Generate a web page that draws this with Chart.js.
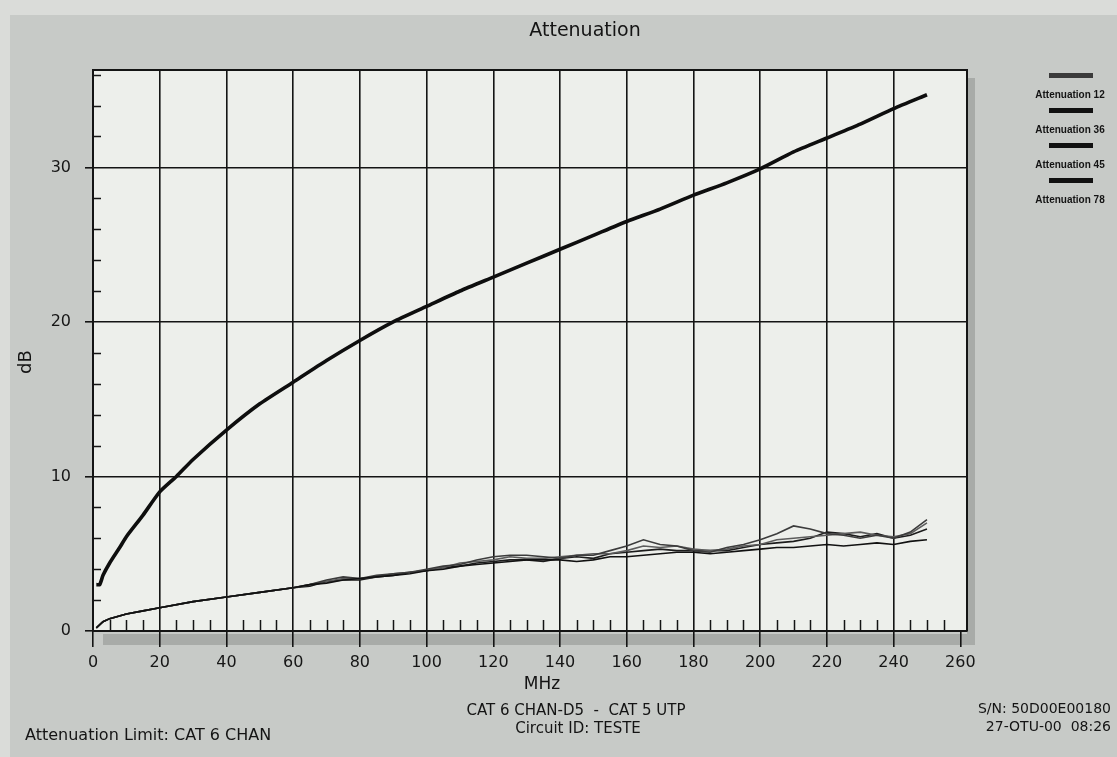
<!DOCTYPE html>
<html>
<head>
<meta charset="utf-8">
<title>Attenuation</title>
<script src="https://cdn.jsdelivr.net/npm/chart.js@4"></script>
<style>
  html, body { margin: 0; padding: 0; background: #cfd2cf; }
  canvas { display: block; }
</style>
</head>
<body>
<canvas id="attChart" width="1117" height="757"></canvas>
<script>
// limit curve (CAT 6 CHAN)
const limitFreq = [1, 2, 3, 5, 8, 10, 15, 20, 25, 30, 40, 50, 60, 70, 80, 90, 100, 110, 120, 130, 140, 150, 160, 170, 180, 190, 200, 210, 220, 230, 240, 250];
const limitDb = [3.0, 3.0, 3.6, 4.4, 5.4, 6.1, 7.5, 9.0, 10.0, 11.1, 13.0, 14.7, 16.1, 17.5, 18.8, 20.0, 21.0, 22.0, 22.9, 23.8, 24.7, 25.6, 26.5, 27.3, 28.2, 29.0, 29.9, 31.0, 31.9, 32.8, 33.8, 34.7];

// measured pairs
const measFreq = [1, 3, 5, 10, 15, 20, 30, 40, 50, 60, 65, 70, 75, 80, 85, 90, 95, 100, 105, 110, 115, 120, 125, 130, 135, 140, 145, 150, 155, 160, 165, 170, 175, 180, 185, 190, 195, 200, 205, 210, 215, 220, 225, 230, 235, 240, 245, 250];
const att12 = [0.2, 0.6, 0.8, 1.1, 1.3, 1.5, 1.9, 2.2, 2.5, 2.8, 3.0, 3.1, 3.3, 3.4, 3.5, 3.6, 3.7, 3.9, 4.0, 4.2, 4.3, 4.4, 4.5, 4.6, 4.6, 4.6, 4.5, 4.6, 4.8, 4.8, 4.9, 5.0, 5.1, 5.1, 5.0, 5.1, 5.2, 5.3, 5.4, 5.4, 5.5, 5.6, 5.5, 5.6, 5.7, 5.6, 5.8, 5.9];
const att36 = [0.2, 0.6, 0.8, 1.1, 1.3, 1.5, 1.9, 2.2, 2.5, 2.8, 3.0, 3.3, 3.5, 3.4, 3.6, 3.7, 3.8, 4.0, 4.2, 4.3, 4.6, 4.8, 4.9, 4.9, 4.8, 4.7, 4.9, 4.9, 5.2, 5.5, 5.9, 5.6, 5.5, 5.2, 5.1, 5.4, 5.6, 5.9, 6.3, 6.8, 6.6, 6.3, 6.2, 6.0, 6.2, 6.0, 6.4, 7.2];
const att45 = [0.2, 0.6, 0.8, 1.1, 1.3, 1.5, 1.9, 2.2, 2.5, 2.8, 3.0, 3.2, 3.4, 3.4, 3.5, 3.7, 3.8, 3.9, 4.1, 4.4, 4.5, 4.6, 4.8, 4.7, 4.7, 4.8, 4.9, 5.0, 5.0, 5.2, 5.5, 5.4, 5.5, 5.3, 5.2, 5.3, 5.5, 5.6, 5.9, 6.0, 6.1, 6.2, 6.3, 6.4, 6.2, 6.1, 6.3, 7.0];
const att78 = [0.2, 0.6, 0.8, 1.1, 1.3, 1.5, 1.9, 2.2, 2.5, 2.8, 2.9, 3.2, 3.3, 3.3, 3.5, 3.6, 3.8, 3.9, 4.1, 4.2, 4.4, 4.5, 4.6, 4.6, 4.5, 4.7, 4.8, 4.7, 5.0, 5.1, 5.2, 5.3, 5.2, 5.2, 5.2, 5.2, 5.4, 5.6, 5.7, 5.8, 6.0, 6.4, 6.3, 6.1, 6.3, 6.0, 6.2, 6.6];

const pairLabels = ['Attenuation 12', 'Attenuation 36', 'Attenuation 45', 'Attenuation 78'];
const xTicks = [0, 20, 40, 60, 80, 100, 120, 140, 160, 180, 200, 220, 240, 260];
const yTicks = [0, 10, 20, 30];

const toPoints = (xs, ys) => xs.map((x, i) => ({ x: x, y: ys[i] }));

const INK = '#141414';
const FONT = '"DejaVu Sans", Verdana, sans-serif';
const SMALL = 'Arial, "Liberation Sans", sans-serif';

// backgrounds, shadow and all the free text / legend
const decor = {
  id: 'decor',
  beforeDraw(chart) {
    const c = chart.ctx;
    const a = chart.chartArea;
    c.save();
    c.fillStyle = '#dadcd9';
    c.fillRect(0, 0, chart.width, chart.height);
    c.fillStyle = '#c7cac7';
    c.fillRect(10, 15, chart.width - 10, chart.height - 15);
    // shadow of the plot panel
    c.fillStyle = '#a8aba8';
    c.fillRect(a.left + 10, a.bottom + 3, a.right - a.left - 2, 11);
    c.fillRect(a.right, a.top + 8, 8, a.bottom - a.top + 6);
    c.fillStyle = '#edefeb';
    c.fillRect(a.left, a.top, a.right - a.left, a.bottom - a.top);
    c.restore();
  },
  beforeDatasetsDraw(chart) {
    const c = chart.ctx;
    const a = chart.chartArea;
    const xs = chart.scales.x;
    const ys = chart.scales.y;
    c.save();
    c.strokeStyle = INK;
    c.lineWidth = 1.5;
    c.beginPath();
    // minor ticks inside the plot
    for (let f = 5; f <= 255; f += 5) {
      if (f % 20 === 0) continue;
      const px = Math.round(xs.getPixelForValue(f)) + 0.5;
      c.moveTo(px, a.bottom);
      c.lineTo(px, a.bottom - 11);
    }
    for (let d = 2; d <= 36; d += 2) {
      if (d % 10 === 0) continue;
      const py = Math.round(ys.getPixelForValue(d)) + 0.5;
      c.moveTo(a.left, py);
      c.lineTo(a.left + 8, py);
    }
    c.stroke();
    // top and right frame
    c.lineWidth = 2;
    c.beginPath();
    c.moveTo(a.left, a.top);
    c.lineTo(a.right, a.top);
    c.lineTo(a.right, a.bottom);
    c.stroke();
    c.restore();
  },
  afterDraw(chart) {
    const c = chart.ctx;
    c.save();
    c.fillStyle = INK;
    c.textBaseline = 'middle';

    c.textAlign = 'center';
    c.font = '19px ' + FONT;
    c.fillText('Attenuation', 585, 31);

    c.font = '17px ' + FONT;
    c.fillText('MHz', 542, 685);

    c.font = '15px ' + FONT;
    c.fillText('CAT 6 CHAN-D5  -  CAT 5 UTP', 576, 711);
    c.fillText('Circuit ID: TESTE', 578, 729);

    c.textAlign = 'left';
    c.font = '16px ' + FONT;
    c.fillText('Attenuation Limit: CAT 6 CHAN', 25, 736);

    c.textAlign = 'right';
    c.font = '14px ' + FONT;
    c.fillText('S/N: 50D00E00180', 1111, 709);
    c.fillText('27-OTU-00  08:26', 1111, 727);

    c.save();
    c.translate(26, 362);
    c.rotate(-Math.PI / 2);
    c.textAlign = 'center';
    c.font = '18px ' + FONT;
    c.fillText('dB', 0, 0);
    c.restore();

    // legend: short thick bar over each label
    c.textAlign = 'center';
    c.font = 'bold 10px ' + SMALL;
    pairLabels.forEach((lab, i) => {
      const y = 75 + i * 35;
      c.fillStyle = i === 0 ? '#3a3a3a' : '#111';
      c.fillRect(1049, y - 2, 44, 5);
      c.fillStyle = INK;
      c.fillText(lab, 1070, y + 20);
    });
    c.restore();
  }
};

const thin = (label, ys, color) => ({
  label: label,
  data: toPoints(measFreq, ys),
  borderColor: color,
  borderWidth: 1.6,
  pointRadius: 0,
  tension: 0,
  fill: false
});

new Chart(document.getElementById('attChart').getContext('2d'), {
  type: 'line',
  data: {
    datasets: [
      {
        label: 'Attenuation Limit',
        data: toPoints(limitFreq, limitDb),
        borderColor: '#0e0e0e',
        borderWidth: 3.6,
        pointRadius: 0,
        tension: 0.2,
        fill: false
      },
      thin(pairLabels[0], att12, '#111111'),
      thin(pairLabels[1], att36, '#3c3c3c'),
      thin(pairLabels[2], att45, '#5c5c5c'),
      thin(pairLabels[3], att78, '#1c1c1c')
    ]
  },
  options: {
    responsive: false,
    animation: false,
    devicePixelRatio: 1,
    layout: { padding: { top: 70, right: 150, left: 0, bottom: 0 } },
    plugins: {
      legend: { display: false },
      title: { display: false },
      tooltip: { enabled: false }
    },
    scales: {
      x: {
        type: 'linear',
        min: 0,
        max: 262,
        afterFit: (s) => { s.height = 126; },
        afterBuildTicks: (s) => { s.ticks = xTicks.map(v => ({ value: v })); },
        ticks: {
          autoSkip: false,
          maxRotation: 0,
          padding: 6,
          color: '#161616',
          font: { family: FONT, size: 16 }
        },
        grid: {
          color: (ctx) => (ctx.tick && ctx.tick.value === 260 ? 'rgba(0,0,0,0)' : INK),
          tickColor: INK,
          lineWidth: 1.6,
          tickLength: 16
        },
        border: { color: INK, width: 2 }
      },
      y: {
        min: 0,
        max: 36.3,
        afterFit: (s) => { s.width = 93; },
        afterBuildTicks: (s) => { s.ticks = yTicks.map(v => ({ value: v })); },
        ticks: {
          padding: 14,
          color: '#161616',
          font: { family: FONT, size: 16 }
        },
        grid: {
          color: INK,
          lineWidth: 1.6,
          tickLength: 8
        },
        border: { color: INK, width: 2 }
      }
    }
  },
  plugins: [decor]
});
</script>
</body>
</html>
